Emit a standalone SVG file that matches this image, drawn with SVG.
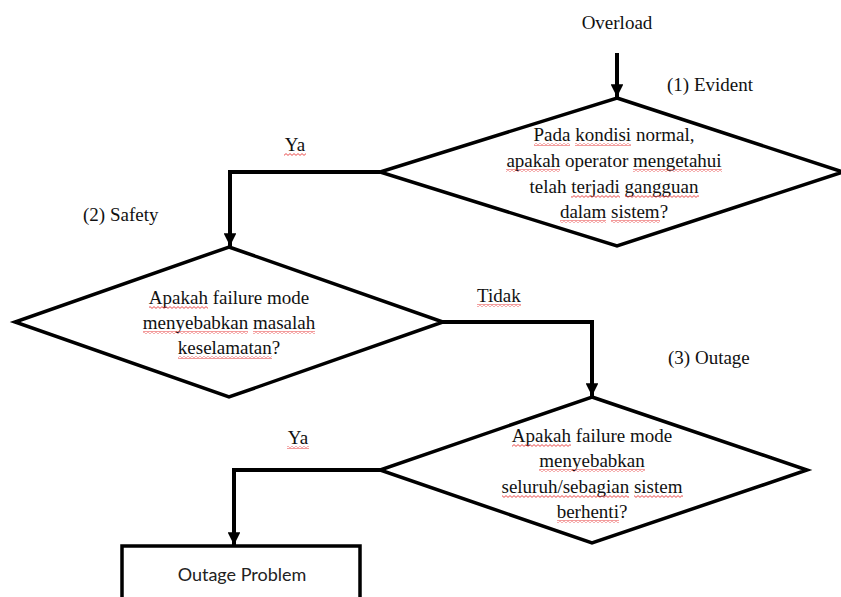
<svg xmlns="http://www.w3.org/2000/svg" width="841" height="597" viewBox="0 0 841 597">
  <style>
    .t { font-family: "Liberation Serif", "Times New Roman", serif; font-size: 19px; fill: #111; }
    .c { text-anchor: middle; }
    .sq { fill: url(#squig); }
    .shape { fill: #fff; stroke: #000; stroke-width: 3.5; stroke-linejoin: miter; }
    .wire { fill: none; stroke: #000; stroke-width: 4; }
    .box-label { font-family: Lato, "Open Sans", sans-serif; font-size: 18px; fill: #222; text-anchor: middle; }
  </style>
  <defs>
    <marker id="head" viewBox="0 0 10 10" refX="10" refY="5" markerWidth="3.2" markerHeight="3.2" markerUnits="strokeWidth" orient="auto">
      <path d="M0,0 L10,5 L0,10 Z" fill="#000"/>
    </marker>
    <!-- wavy spell-check underline tile -->
    <pattern id="squig" width="4" height="3" patternUnits="userSpaceOnUse">
      <path d="M0,2.4 L2,0.6 L4,2.4" fill="none" stroke="#e83838" stroke-width="0.9"/>
    </pattern>
  </defs>

  <rect width="841" height="597" fill="#fff"/>

  <!-- free labels -->
  <text class="t c" x="617" y="29">Overload</text>
  <text class="t" x="667" y="91">(1) Evident</text>
  <text class="t c" x="295" y="151">Ya</text>
  <rect class="sq" x="284" y="153" width="22" height="3"/>
  <text class="t" x="83" y="221">(2) Safety</text>
  <text class="t" x="477" y="302">Tidak</text>
  <rect class="sq" x="477" y="304" width="44" height="3"/>
  <text class="t" x="668" y="364">(3) Outage</text>
  <text class="t c" x="298" y="444">Ya</text>
  <rect class="sq" x="287" y="446" width="22" height="3"/>

  <!-- connectors -->
  <g id="connectors">
    <path class="wire" d="M617,53 V97" marker-end="url(#head)"/>
    <path class="wire" d="M380,172 H230 V246" marker-end="url(#head)"/>
    <path class="wire" d="M443,322 H592 V396" marker-end="url(#head)"/>
    <path class="wire" d="M380,470 H234 V545" marker-end="url(#head)"/>
  </g>

  <!-- decision 1: evident -->
  <g id="evident">
    <polygon class="shape" points="617,98 843,172 617,246 380,172"/>
    <text class="t c" x="614" y="141">Pada kondisi normal,</text>
    <text class="t c" x="614" y="167">apakah operator mengetahui</text>
    <text class="t c" x="614" y="193">telah terjadi gangguan</text>
    <text class="t c" x="614" y="218">dalam sistem?</text>
    <rect class="sq" x="534" y="143" width="36" height="3"/>
    <rect class="sq" x="575" y="143" width="56" height="3"/>
    <rect class="sq" x="506" y="169" width="54" height="3"/>
    <rect class="sq" x="633" y="169" width="89" height="3"/>
    <rect class="sq" x="571" y="195" width="49" height="3"/>
    <rect class="sq" x="625" y="195" width="74" height="3"/>
    <rect class="sq" x="560" y="220" width="46" height="3"/>
    <rect class="sq" x="611" y="220" width="49" height="3"/>
  </g>

  <!-- decision 2: safety -->
  <g id="safety">
    <polygon class="shape" points="229,247 443,322 229,397 15,322"/>
    <text class="t c" x="229" y="304">Apakah failure mode</text>
    <text class="t c" x="229" y="329">menyebabkan masalah</text>
    <text class="t c" x="229" y="354">keselamatan?</text>
    <rect class="sq" x="149" y="306" width="59" height="3"/>
    <rect class="sq" x="143" y="331" width="105" height="3"/>
    <rect class="sq" x="253" y="331" width="62" height="3"/>
    <rect class="sq" x="178" y="356" width="94" height="3"/>
  </g>

  <!-- decision 3: outage -->
  <g id="outage">
    <polygon class="shape" points="592,397 807,470 592,543 380,470"/>
    <text class="t c" x="592" y="442">Apakah failure mode</text>
    <text class="t c" x="592" y="467">menyebabkan</text>
    <text class="t c" x="592" y="493">seluruh/sebagian sistem</text>
    <text class="t c" x="592" y="518">berhenti?</text>
    <rect class="sq" x="512" y="444" width="59" height="3"/>
    <rect class="sq" x="539" y="469" width="106" height="3"/>
    <rect class="sq" x="502" y="495" width="127" height="3"/>
    <rect class="sq" x="634" y="495" width="49" height="3"/>
    <rect class="sq" x="557" y="520" width="62" height="3"/>
  </g>

  <!-- result -->
  <g id="outage-problem">
    <rect class="shape" x="122" y="546" width="238" height="70" stroke-width="3"/>
    <text class="box-label" x="242" y="581">Outage Problem</text>
  </g>
</svg>
